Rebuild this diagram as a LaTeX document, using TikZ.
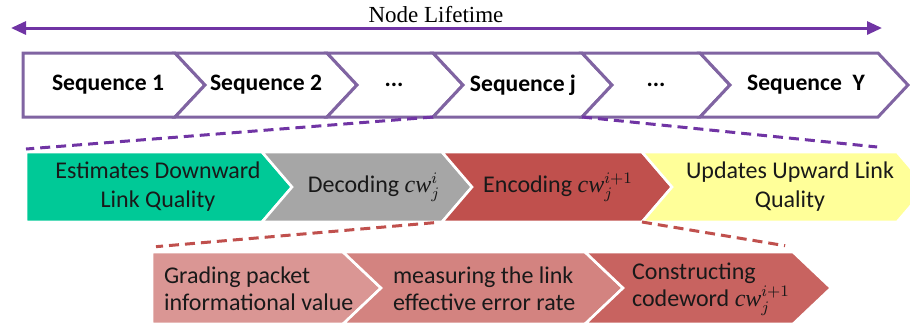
\documentclass[tikz,border=0pt]{standalone}
\usepackage{fontspec}
\setmainfont{Carlito}
\newfontfamily\lifefont{Liberation Serif}
\usetikzlibrary{arrows.meta}

\definecolor{lifeviolet}{RGB}{112,52,164}
\definecolor{seqpurple}{RGB}{128,100,162}
\definecolor{stepgreen}{RGB}{0,201,151}
\definecolor{stepgray}{RGB}{166,166,166}
\definecolor{stepred}{RGB}{192,80,77}
\definecolor{stepyellow}{RGB}{255,255,153}
\definecolor{subpinka}{RGB}{218,150,148}
\definecolor{subpinkb}{RGB}{211,131,128}
\definecolor{subpinkc}{RGB}{200,99,96}

\newcommand\skipdots{...}
\newcommand\cword[1]{$\hbox{\lifefont\itshape cw}_j^{#1}$}

\begin{document}
\begin{tikzpicture}[line join=miter, x=0.5pt, y=-0.5pt,
    seqtext/.style={font=\fontsize{11.8}{14}\selectfont\bfseries},
    steptext/.style={font=\fontsize{12}{14.5}\selectfont, align=center, text=black!90},
    subtext/.style={font=\fontsize{12}{13.5}\selectfont, align=left, anchor=west, text=black!90},
    zoomline/.style={line width=1.5pt, dash pattern=on 5pt off 3pt}]
  \useasboundingbox (0,0) rectangle (910,329);

  % lifetime arrow
  \coordinate (life-w) at (11,28);
  \coordinate (life-e) at (882,28);
  \draw[lifeviolet, line width=1.5pt, {Triangle[length=7.5pt,width=6.5pt]}-{Triangle[length=7.5pt,width=6.5pt]}] (life-w) -- (life-e);
  \node[font={\lifefont\fontsize{11.5}{13}\selectfont}] (lifetime) at (436,15) {Node Lifetime};

  % sequences of the node
  \foreach \nm/\l/\n/\r/\tx/\txt in {sa/23/0/175/108/Sequence 1, sb/175/30/327/266/Sequence 2,
      sc/327/30/433/394/\skipdots, sd/433/30/582/523/Sequence j, se/582/30/700/656/\skipdots,
      sf/700/30/878/806/Sequence~~Y} {
    \draw[seqpurple, line width=1.5pt, fill=white] (\l,53) -- (\r,53) -- (\r+30,85) -- (\r,117) -- (\l,117) -- (\l+\n,85) -- cycle;
    \coordinate (\nm-sw) at (\l,117);
    \coordinate (\nm-se) at (\r,117);
    \node[seqtext] (\nm) at (\tx,85) {\txt};
  }

  % steps of one sequence
  \foreach \nm/\l/\n/\r/\col/\tx/\txt in {ga/26/0/262/stepgreen/158/{Estimates Downward\\Link Quality},
      gb/262/30/442/stepgray/374/{Decoding \cword{i}},
      gc/442/30/642/stepred/558/{Encoding \cword{i+1}},
      gd/642/30/897/stepyellow/790/{Updates Upward Link\\Quality}} {
    \fill[\col, draw=white, line width=1.3pt] (\l,152) -- (\r,152) -- (\r+30,187) -- (\r,222) -- (\l,222) -- (\l+\n,187) -- cycle;
    \coordinate (\nm-nw) at (\l,149);
    \coordinate (\nm-ne) at (\r,149);
    \coordinate (\nm-sw) at (\l,222);
    \coordinate (\nm-se) at (\r,222);
    \node[steptext] (\nm) at (\tx,187) {\txt};
  }

  % steps of the encoding
  \foreach \nm/\l/\n/\r/\col/\tx/\txt in {ha/152/0/343/subpinka/157/{Grading packet\\informational value},
      hb/343/38/585/subpinkb/386/{measuring the link\\effective error rate},
      hc/585/38/793/subpinkc/625/{Constructing\\codeword \cword{i+1}}} {
    \fill[\col, draw=white, line width=1.3pt] (\l,252) -- (\r,252) -- (\r+38,288) -- (\r,324) -- (\l,324) -- (\l+\n,288) -- cycle;
    \coordinate (\nm-nw) at (\l,247);
    \coordinate (\nm-ne) at (\r,247);
    \node[subtext] (\nm) at (\tx,289) {\txt};
  }

  % zoom lines
  \draw[zoomline, lifeviolet] (sd-sw) -- (ga-nw);
  \draw[zoomline, lifeviolet, shorten >=10pt] (sd-se) -- (gd-ne);
  \draw[zoomline, stepred, shorten <=4pt, shorten >=2pt] (gc-sw) -- (ha-nw);
  \draw[zoomline, stepred, shorten >=4pt] (gc-se) -- (hc-ne);
\end{tikzpicture}
\end{document}
